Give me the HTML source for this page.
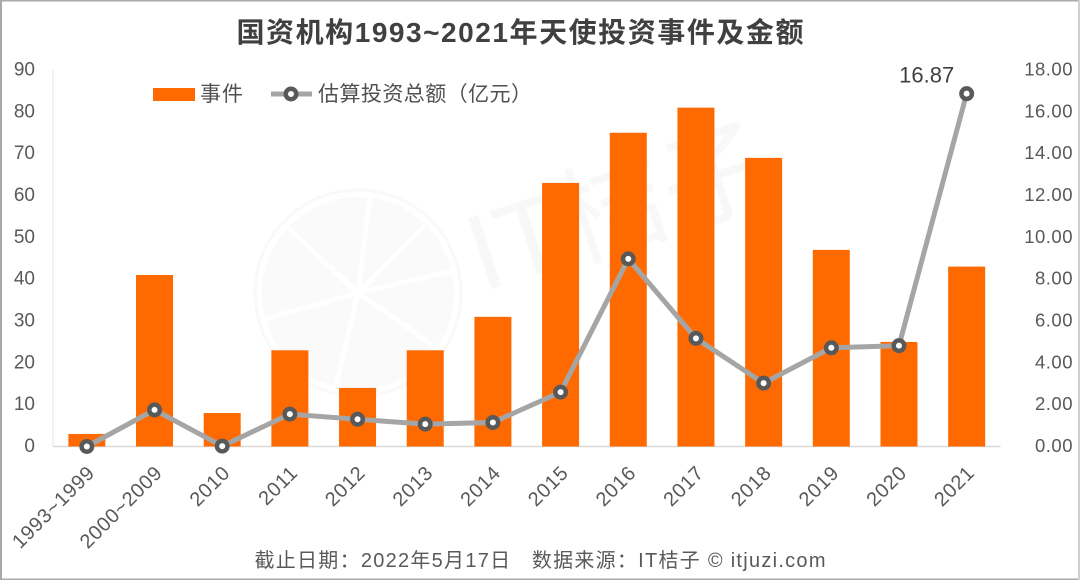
<!DOCTYPE html>
<html lang="zh">
<head>
<meta charset="utf-8">
<title>国资机构1993~2021年天使投资事件及金额</title>
<style>
html,body{margin:0;padding:0;background:#fff;width:1080px;height:580px;overflow:hidden}
svg{display:block;font-family:"Liberation Sans","Noto Sans CJK SC",sans-serif}
</style>
</head>
<body>
<svg id="chart" width="1080" height="580" viewBox="0 0 1080 580" xmlns="http://www.w3.org/2000/svg">
  <rect x="0" y="0" width="1080" height="580" fill="#ffffff"/>
  <g id="watermark">
    <circle cx="358" cy="293" r="103" fill="none" stroke="#f9f9f9" stroke-width="3"/>
    <circle cx="358" cy="293" r="96" fill="#fafafa"/>
    <g stroke="#ffffff" stroke-width="5">
      <line x1="358" y1="293" x2="370" y2="195"/>
      <line x1="358" y1="293" x2="425" y2="225"/>
      <line x1="358" y1="293" x2="455" y2="270"/>
      <line x1="358" y1="293" x2="440" y2="350"/>
      <line x1="358" y1="293" x2="335" y2="390"/>
      <line x1="358" y1="293" x2="262" y2="320"/>
      <line x1="358" y1="293" x2="285" y2="225"/>
    </g>
    <text x="482" y="292" font-size="108" font-weight="400" fill="#f8f8f8" transform="rotate(-18 482 292)">IT桔子</text>
  </g>
  <text x="520" y="42" text-anchor="middle" font-size="28" font-weight="700" fill="#404040" textLength="567" lengthAdjust="spacing">国资机构1993~2021年天使投资事件及金额</text>
  <g id="axes"></g>
  <g id="bars"></g>
  <g id="line"></g>
  <g id="legend">
    <rect x="153" y="88" width="42" height="13" fill="#ff6a00"/>
    <text x="200" y="101" font-size="21" fill="#505050" textLength="43" lengthAdjust="spacing">事件</text>
    <line x1="271" y1="94" x2="312" y2="94" stroke="#a5a5a5" stroke-width="5"/>
    <circle cx="291" cy="94" r="5.25" fill="#ffffff" stroke="#595959" stroke-width="4.5"/>
    <text x="318" y="101" font-size="21" fill="#505050" textLength="214" lengthAdjust="spacing">估算投资总额（亿元）</text>
  </g>
  <text x="540" y="567" text-anchor="middle" font-size="20" fill="#595959" textLength="571" lengthAdjust="spacing" xml:space="preserve">截止日期：2022年5月17日   数据来源：IT桔子 © itjuzi.com</text>
  <g fill="#a9a9a9">
    <rect x="0" y="0" width="1080" height="1.5"/>
    <rect x="0" y="0" width="2" height="580"/>
    <rect x="0" y="578.5" width="1080" height="1.5"/>
    <rect x="1078" y="0" width="2" height="580" fill="#cfcfcf"/>
  </g>
</svg>
<script>
var categories = ["1993~1999","2000~2009","2010","2011","2012","2013","2014","2015","2016","2017","2018","2019","2020","2021"];
var eventCounts = [3,41,8,23,14,23,31,63,75,81,69,47,25,43];
var investmentTotals = [0,1.75,0.02,1.55,1.3,1.07,1.15,2.6,8.97,5.17,3.03,4.72,4.82,16.87];
var leftTicks = [0,10,20,30,40,50,60,70,80,90];
var rightTicks = [0,2,4,6,8,10,12,14,16,18];

var NS = "http://www.w3.org/2000/svg";
var plotLeft = 53, plotRight = 1000.5, plotTop = 70, plotBottom = 446.5;
var leftMax = 90, rightMax = 18, barWidth = 37;

function xScale(i) { return plotLeft + (plotRight - plotLeft) * (i + 0.5) / categories.length; }
function yLeft(v) { return plotBottom - (plotBottom - plotTop) * v / leftMax; }
function yRight(v) { return plotBottom - (plotBottom - plotTop) * v / rightMax; }
function make(tag, attrs, parent, txt) {
  var el = document.createElementNS(NS, tag);
  for (var k in attrs) el.setAttribute(k, attrs[k]);
  if (txt !== undefined) el.textContent = txt;
  parent.appendChild(el);
  return el;
}

var axes = document.getElementById("axes");
var barsG = document.getElementById("bars");
var lineG = document.getElementById("line");

var baseLine = make("line", {x1: plotLeft, y1: plotBottom, x2: plotRight, y2: plotBottom, stroke: "#d9d9d9", "stroke-width": 1.5}, axes);



var leftLine = make("line", {x1: plotLeft, y1: plotTop, x2: plotLeft, y2: plotBottom, stroke: "#eeeeee", "stroke-width": 1.5}, axes);



leftTicks.forEach(function (t) {
  var el = make("text", {x: 35, y: yLeft(t) + 5.5, "text-anchor": "end", "font-size": 19, fill: "#595959"}, axes, String(t));
  
  
});

rightTicks.forEach(function (t) {
  var el = make("text", {x: 1073, y: yRight(t) + 5.5, "text-anchor": "end", "font-size": 18.5, fill: "#595959", "letter-spacing": "0.5"}, axes, t.toFixed(2));
  
  
});

categories.forEach(function (c, i) {
  var ax = xScale(i) + 9, ay = 474;
  var el = make("text", {x: ax, y: ay, "text-anchor": "end", "font-size": 20, "letter-spacing": "0.7", fill: "#595959", transform: "rotate(-45 " + ax + " " + ay + ")"}, axes, c);
  
  
});

eventCounts.forEach(function (v, i) {
  var y = yLeft(v);
  var el = make("rect", {x: xScale(i) - barWidth / 2, y: y, width: barWidth, height: plotBottom - y, fill: "#ff6a00"}, barsG);
  
  
});

var pts = investmentTotals.map(function (v, i) { return xScale(i) + "," + yRight(v); }).join(" ");
var poly = make("polyline", {points: pts, fill: "none", stroke: "#a5a5a5", "stroke-width": 5, "stroke-linejoin": "round"}, lineG);



investmentTotals.forEach(function (v, i) {
  var el = make("circle", {cx: xScale(i), cy: yRight(v), r: 5.25, fill: "#ffffff", stroke: "#595959", "stroke-width": 4.5}, lineG);
  
  
});

var lastIndex = investmentTotals.length - 1;
var lastLabel = make("text", {x: xScale(lastIndex) - 40, y: yRight(investmentTotals[lastIndex]) - 11, "text-anchor": "middle", "font-size": 22, fill: "#404040"}, lineG, investmentTotals[lastIndex].toFixed(2));


</script>
</body>
</html>
